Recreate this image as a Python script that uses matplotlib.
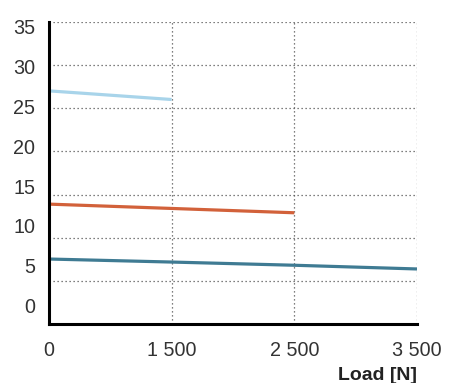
import matplotlib
matplotlib.use("Agg")
import matplotlib.pyplot as plt

plt.rcParams['font.family'] = ['Liberation Sans', 'DejaVu Sans']

x_labels = ["0", "1 500", "2 500", "3 500"]
y_labels = ["0", "5", "10", "15", "20", "25", "30", "35"]
light_blue = [27.0, 26.0]
orange = [13.9, 13.4, 12.9]
teal = [7.55, 7.2, 6.83, 6.4]

fig = plt.figure(figsize=(4.49, 3.83), dpi=100)
ax = fig.add_axes([49/449, (383-324.3)/383, (417-49)/449, (324.3-21.7)/383])

ax.plot(range(len(light_blue)), light_blue, color="#a8d4ea", lw=2.3, solid_capstyle='butt')
ax.plot(range(len(orange)), orange, color="#d2613a", lw=2.3, solid_capstyle='butt')
ax.plot(range(len(teal)), teal, color="#3f7b93", lw=2.3, solid_capstyle='butt')

ax.set_xlim(0, 3)
ax.set_ylim(0, 35)

# grid
for gx in [1, 2, 3]:
    ax.axvline(gx, color="#555555", lw=0.9, ls=(0, (1, 2.2)), zorder=0)
for gy in range(5, 36, 5):
    ax.axhline(gy, color="#555555", lw=0.9, ls=(0, (1, 2.2)), zorder=0)

ax.set_xticks(range(len(x_labels)))
ax.set_xticklabels(x_labels)
# y tick labels drawn at their positions in the reference
ypos = [2.12 + 0.925 * int(v) for v in y_labels]
ax.set_yticks(ypos)
ax.set_yticklabels(y_labels)
ax.tick_params(axis='both', length=0, labelsize=14.2, colors="#333333")
ax.tick_params(axis='x', pad=12)
ax.tick_params(axis='y', pad=10)

for s in ['top', 'right']:
    ax.spines[s].set_visible(False)
for s in ['left', 'bottom']:
    ax.spines[s].set_linewidth(2.2)
    ax.spines[s].set_color("black")
    ax.spines[s].set_capstyle('projecting')

fig.text(417/449, (383-375)/383, "Load [N]", ha='right', va='center',
         fontsize=14, fontweight='bold', color="#222222")

fig.savefig("out.png", dpi=100)
